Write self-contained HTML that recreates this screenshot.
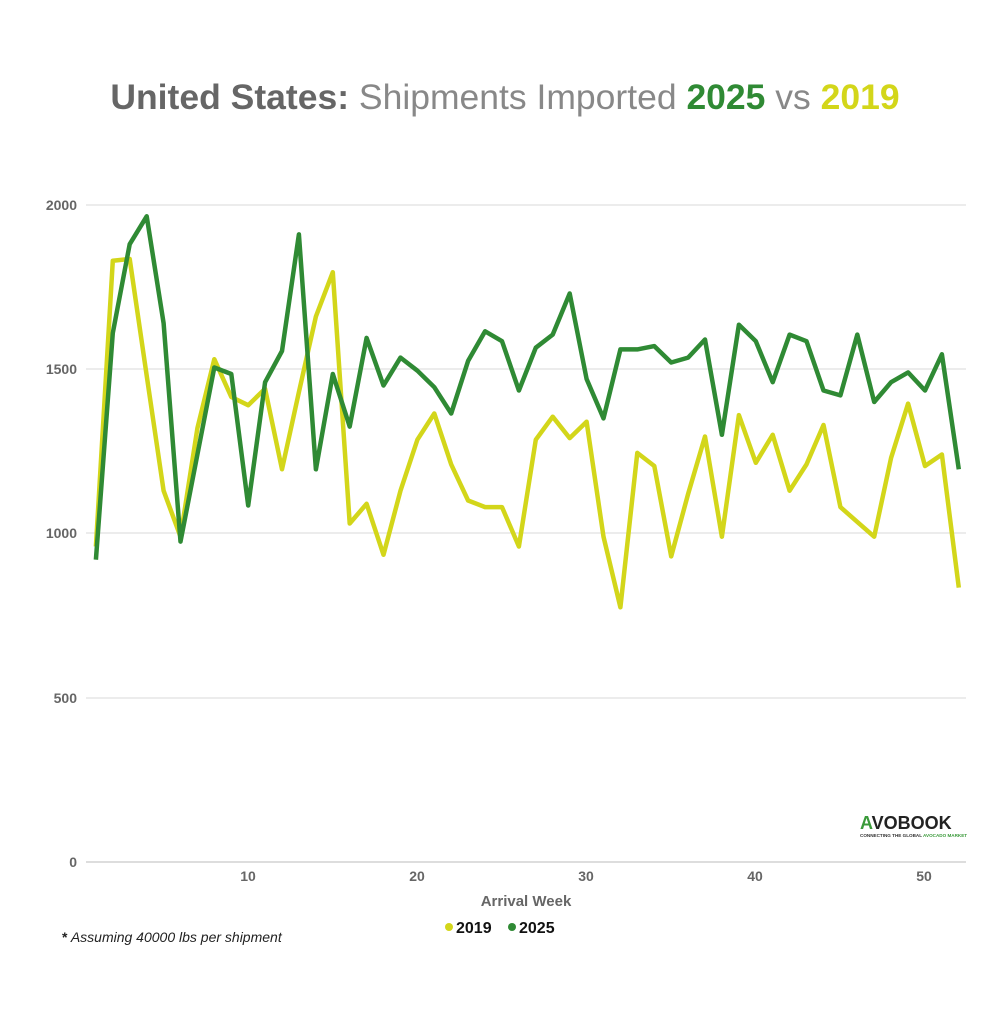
<!DOCTYPE html>
<html><head><meta charset="utf-8"><style>
html,body{margin:0;padding:0;background:#fff;}
svg{display:block;font-family:"Liberation Sans",sans-serif;}
</style></head><body>
<svg id="c" width="1007" height="1024" viewBox="0 0 1007 1024" xmlns="http://www.w3.org/2000/svg">
<text x="505" y="109" text-anchor="middle" font-size="35.5" fill="#666"><tspan font-weight="bold">United States:</tspan><tspan fill="#888"> Shipments Imported </tspan><tspan font-weight="bold" fill="#2f8a34">2025</tspan><tspan fill="#888"> vs </tspan><tspan font-weight="bold" fill="#d3d61a">2019</tspan></text>
<g stroke="#d9d9d9" stroke-width="1">
<line x1="86" x2="966" y1="205" y2="205"/><line x1="86" x2="966" y1="369" y2="369"/>
<line x1="86" x2="966" y1="533" y2="533"/><line x1="86" x2="966" y1="698" y2="698"/>
<line x1="86" x2="966" y1="862" y2="862" stroke="#bbb"/>
</g>
<g font-size="14" font-weight="bold" fill="#666" text-anchor="end">
<text x="77" y="210">2000</text><text x="77" y="374">1500</text><text x="77" y="538">1000</text><text x="77" y="703">500</text><text x="77" y="867">0</text>
</g>
<g font-size="14" font-weight="bold" fill="#666" text-anchor="middle">
<text x="248" y="881">10</text><text x="417" y="881">20</text><text x="586" y="881">30</text><text x="755" y="881">40</text><text x="924" y="881">50</text>
<text x="526" y="906" font-size="15">Arrival Week</text>
</g>
<circle cx="449" cy="927" r="4" fill="#d3d61a"/><text x="456" y="933" font-size="16" font-weight="bold" fill="#111">2019</text>
<circle cx="512" cy="927" r="4" fill="#2f8a34"/><text x="519" y="933" font-size="16" font-weight="bold" fill="#111">2025</text>
<text x="62" y="942" font-size="14" fill="#222"><tspan font-weight="bold">*</tspan><tspan font-style="italic">  Assuming 40000 lbs per shipment</tspan></text>
<text x="860" y="829" font-size="18" font-weight="bold" fill="#222"><tspan fill="#3a9a3a">A</tspan>VOBOOK</text>
<text x="860" y="837" font-size="4.6" font-weight="bold" fill="#333">CONNECTING THE GLOBAL <tspan fill="#3a9a3a">AVOCADO MARKET</tspan></text>
<polyline id="y19" fill="none" stroke="#d3d61a" stroke-width="4.5" stroke-linejoin="round"/>
<polyline id="y25" fill="none" stroke="#2f8a34" stroke-width="4.5" stroke-linejoin="round"/>
</svg>
<script>
var a25=[920,1610,1880,1965,1640,975,1240,1505,1485,1085,1460,1555,1910,1195,1485,1325,1595,1450,1535,1495,1445,1365,1525,1615,1585,1435,1565,1605,1730,1470,1350,1560,1560,1570,1520,1535,1590,1300,1635,1585,1460,1605,1585,1435,1420,1605,1400,1460,1490,1435,1545,1195];
var a19=[960,1830,1835,1480,1130,990,1320,1530,1415,1390,1440,1195,1430,1660,1795,1030,1090,935,1130,1285,1365,1210,1100,1080,1080,960,1285,1355,1290,1340,990,775,1245,1205,930,1120,1295,990,1360,1215,1300,1130,1210,1330,1080,1035,990,1230,1395,1205,1240,835];
function pts(a){return a.map(function(v,i){return (95.9+i*16.92).toFixed(1)+","+(862-v*0.3286).toFixed(1);}).join(" ");}
document.getElementById("y19").setAttribute("points",pts(a19));
document.getElementById("y25").setAttribute("points",pts(a25));
</script>
</body></html>
